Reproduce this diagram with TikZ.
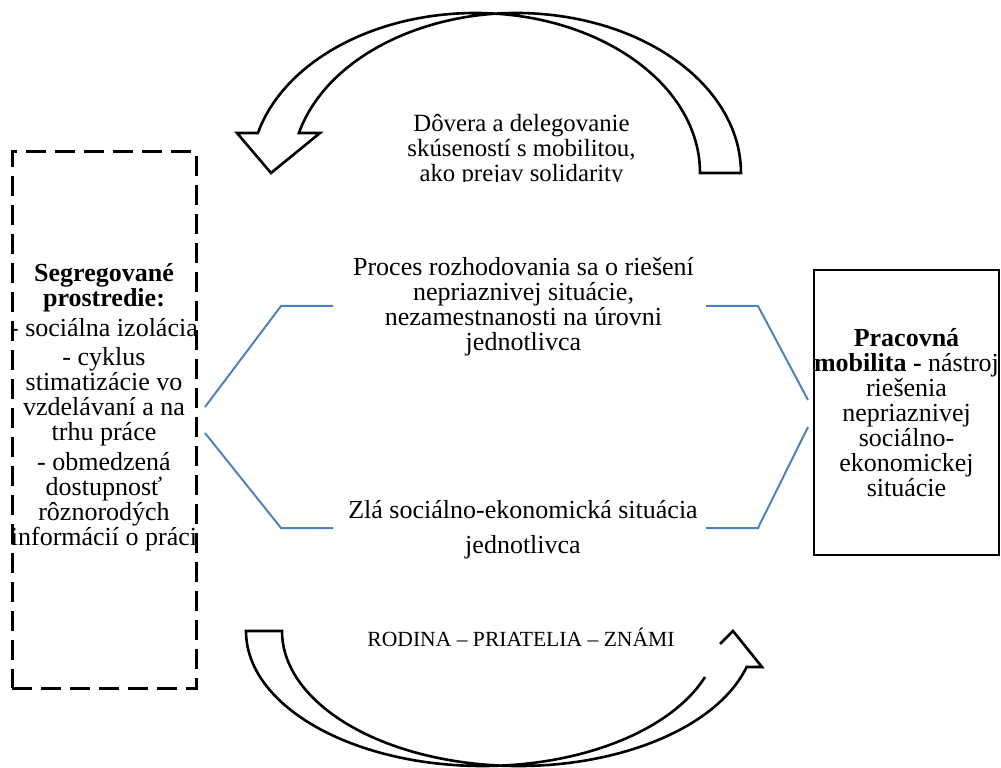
\documentclass[tikz,border=0pt]{standalone}
\usepackage{fontspec}
\setmainfont{Liberation Serif}
\definecolor{wordblue}{RGB}{79,129,189}

\tikzset{
  txt/.style={font=\fontsize{13}{12.5}\selectfont, align=center, inner sep=0pt},
  dashbox/.style={draw, line width=1.5pt, dash pattern=on 10pt off 4.5pt, minimum width=92pt, minimum height=268pt, inner sep=0pt},
  solidbox/.style={draw, line width=1.3pt, minimum width=91.5pt, minimum height=142.5pt},
  bracket/.style={draw=wordblue, line width=1pt},
  bentarrow/.style={draw, line width=1.3pt, line join=miter}
}

\begin{document}
\begin{tikzpicture}[x=0.5pt, y=0.5pt]
  \useasboundingbox (0,0) rectangle (1001,767);

  % boxes left and right
  \node[dashbox] (seg) at (104,347) {};
  \node[txt] (segtxt) at (104,360) {\textbf{Segregované}\\\textbf{prostredie:}\\[2.25pt]- sociálna izolácia\\[2.25pt]- cyklus\\stimatizácie vo\\vzdelávaní a na\\trhu práce\\[2.25pt]- obmedzená\\dostupnosť\\rôznorodých\\informácií o práci};
  \node[solidbox, txt] (mob) at (906.5,354.5) {\textbf{Pracovná}\\\textbf{mobilita -} nástroj\\riešenia\\nepriaznivej\\sociálno-\\ekonomickej\\situácie};

  % middle texts
  \node[txt] (proc) at (523.5,460.5) {Proces rozhodovania sa o riešení\\nepriaznivej situácie,\\nezamestnanosti na úrovni\\jednotlivca};
  \node[txt] (zla) at (523,237.5) {Zlá sociálno-ekonomická situácia\\[5pt]jednotlivca};
  \node[txt, font=\fontsize{10.8}{12.5}\selectfont, anchor=base] (rpz) at (521,121) {RODINA – PRIATELIA – ZNÁMI};
  \begin{scope}
    \clip (300,585) rectangle (750,720);
    \node[txt, font=\fontsize{12.4}{12.5}\selectfont] (dov) at (521.5,616) {Dôvera a delegovanie\\skúseností s mobilitou,\\ako prejav solidarity};
  \end{scope}

  % blue brackets
  \coordinate (luA) at (205,360); \coordinate (luB) at (281,461); \coordinate (luC) at (333,461);
  \coordinate (llA) at (205,334); \coordinate (llB) at (281,239); \coordinate (llC) at (333,239);
  \coordinate (ruA) at (706,461); \coordinate (ruB) at (758,461); \coordinate (ruC) at (808,367);
  \coordinate (rlA) at (706,239); \coordinate (rlB) at (758,239); \coordinate (rlC) at (808,340);
  \draw[bracket] (luA) -- (luB) -- (luC);
  \draw[bracket] (llA) -- (llB) -- (llC);
  \draw[bracket] (ruA) -- (ruB) -- (ruC);
  \draw[bracket] (rlA) -- (rlB) -- (rlC);

  % curved arrow on top
  \draw[bentarrow] (271,594) -- (320,634) -- (298.9,634)
    arc[start angle=165.52, end angle=0, x radius=224.6, y radius=160]
    -- (700,594)
    arc[start angle=0, end angle=165.52, x radius=224.6, y radius=160]
    -- (237,634) -- cycle;

  % curved arrow at the bottom
  \draw[bentarrow] (720,123) -- (733,136) -- (762,100) -- (746.6,100)
    arc[start angle=344.53, end angle=180, x radius=236.6, y radius=135]
    -- (246,136)
    arc[start angle=180, end angle=340.08, x radius=236.6, y radius=135];
\end{tikzpicture}
\end{document}
